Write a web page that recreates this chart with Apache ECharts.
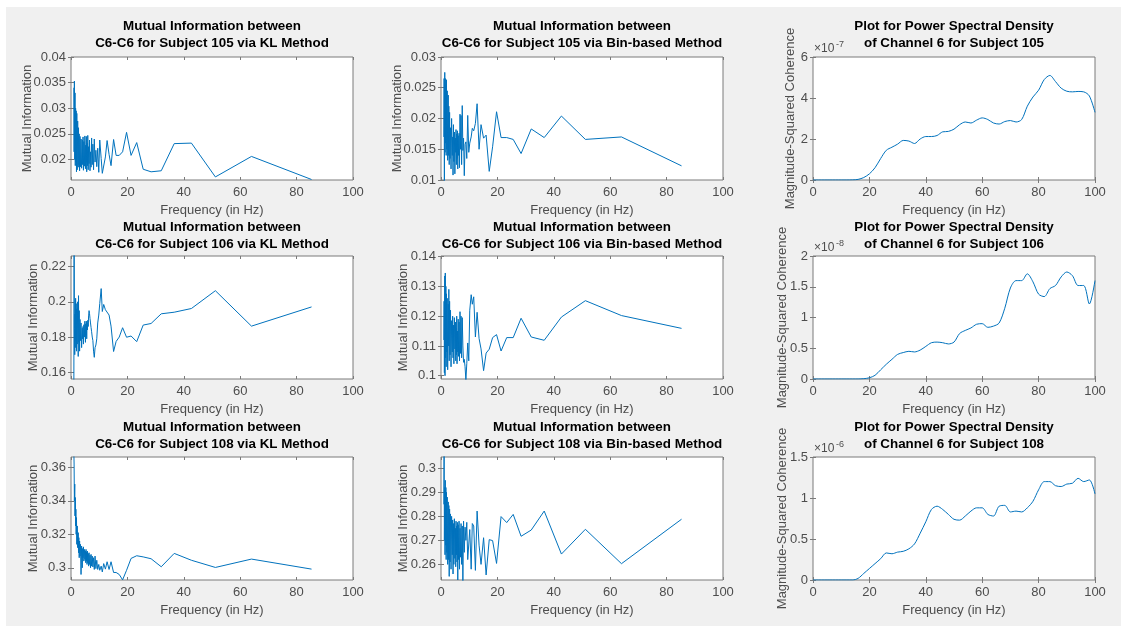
<!DOCTYPE html>
<html>
<head>
<meta charset="utf-8">
<title>Mutual Information and PSD</title>
<script src="https://cdn.jsdelivr.net/npm/echarts@6/dist/echarts.min.js"></script>
<style>
    html, body { margin: 0; padding: 0; background: #ffffff; }
    #bg { position: absolute; left: 6px; top: 7px; width: 1115px; height: 619px; background: #f0f0f0; }
    #main { position: absolute; left: 0; top: 0; width: 1121px; height: 626px; }
</style>
</head>
<body>
<div id="bg"></div>
<div id="main"></div>
<script>
// frequencies of the mutual information points (Hz)
var freqMI = [85.3, 64.0, 51.2, 42.7, 36.6, 32.0, 28.4, 25.6, 23.3, 21.3,
    19.7, 18.3, 17.1, 16.0, 15.1, 14.2, 13.5, 12.8, 12.2, 11.6,
    11.1, 10.7, 10.2, 9.85, 9.48, 9.14, 8.83, 8.53, 8.26, 8.0,
    7.76, 7.53, 7.31, 7.11, 6.92, 6.74, 6.56, 6.4, 6.24, 6.1,
    5.95, 5.82, 5.69, 5.57, 5.45, 5.33, 5.22, 5.12, 4.92, 4.74,
    4.57, 4.41, 4.27, 4.13, 4.0, 3.76, 3.56, 3.37, 3.2, 3.05,
    2.91, 2.78, 2.67, 2.56, 2.37, 2.21, 2.06, 1.94, 1.83, 1.73,
    1.64, 1.52, 1.42, 1.33, 1.2, 1.1, 1.0];

var mi105KL = [0.0161, 0.0206, 0.0166, 0.0232, 0.0231, 0.0178, 0.0176, 0.0181, 0.0233, 0.0208,
    0.0253, 0.0215, 0.0208, 0.0208, 0.0239, 0.0188, 0.0210, 0.0237, 0.0205, 0.0204,
    0.0173, 0.0202, 0.0238, 0.0175, 0.0222, 0.0186, 0.0218, 0.0195, 0.0240, 0.0180,
    0.0230, 0.0190, 0.0242, 0.0185, 0.0215, 0.0178, 0.0238, 0.0192, 0.0225, 0.0180,
    0.0247, 0.0188, 0.0232, 0.0176, 0.0245, 0.0195, 0.0228, 0.0182, 0.0246, 0.0187,
    0.0235, 0.0179, 0.0244, 0.0190, 0.0238, 0.0183, 0.0240, 0.0186, 0.0245, 0.0178,
    0.0250, 0.0190, 0.0262, 0.0185, 0.0275, 0.0180, 0.0290, 0.0176, 0.0295, 0.0195,
    0.0300, 0.0188, 0.0330, 0.0200, 0.0353, 0.0215, 0.0340];

var mi105Bin = [0.0123, 0.0170, 0.0166, 0.0204, 0.0169, 0.0183, 0.0143, 0.0166, 0.0169, 0.0169,
    0.0211, 0.0154, 0.0114, 0.0173, 0.0168, 0.0190, 0.0150, 0.0224, 0.0192, 0.0180,
    0.0184, 0.0170, 0.0160, 0.0145, 0.0205, 0.0135, 0.0162, 0.0158, 0.0107, 0.0168,
    0.0148, 0.0221, 0.0125, 0.0205, 0.0150, 0.0207, 0.0120, 0.0176, 0.0140, 0.0172,
    0.0118, 0.0180, 0.0135, 0.0175, 0.0125, 0.0182, 0.0145, 0.0168, 0.0110, 0.0178,
    0.0130, 0.0190, 0.0108, 0.0170, 0.0140, 0.0200, 0.0118, 0.0185, 0.0135, 0.0210,
    0.0125, 0.0220, 0.0140, 0.0238, 0.0132, 0.0245, 0.0150, 0.0263, 0.0140, 0.0255,
    0.0160, 0.0265, 0.0145, 0.0275, 0.0095, 0.0265, 0.0170];

var mi106KL = [0.1971, 0.1862, 0.2063, 0.1962, 0.1941, 0.1932, 0.1877, 0.1868, 0.1774, 0.1806,
    0.1799, 0.1853, 0.1800, 0.1775, 0.1718, 0.1862, 0.1925, 0.1915, 0.1955, 0.1985,
    0.1945, 0.2075, 0.1990, 0.1925, 0.1880, 0.1790, 0.1755, 0.1740, 0.1685, 0.1720,
    0.1780, 0.1800, 0.1830, 0.1855, 0.1880, 0.1905, 0.1935, 0.1950, 0.1920, 0.1860,
    0.1895, 0.1840, 0.1880, 0.1790, 0.1890, 0.1810, 0.1875, 0.1770, 0.1890, 0.1800,
    0.1870, 0.1760, 0.1860, 0.1790, 0.1850, 0.1740, 0.1880, 0.1780, 0.1900, 0.1720,
    0.1950, 0.1770, 0.2035, 0.1690, 0.2000, 0.1760, 0.1960, 0.1720, 0.1990, 0.1780,
    0.2020, 0.1740, 0.1930, 0.1700, 0.1850, 0.2400, 0.1400];

var mi106Bin = [0.1159, 0.1202, 0.1252, 0.1197, 0.1119, 0.1130, 0.1193, 0.1128, 0.1128, 0.1083,
    0.1138, 0.1128, 0.1089, 0.1076, 0.1017, 0.1090, 0.1125, 0.1213, 0.1130, 0.1265,
    0.1240, 0.1272, 0.1220, 0.1050, 0.1110, 0.1040, 0.0985, 0.1030, 0.1055, 0.1045,
    0.1100, 0.1195, 0.1060, 0.1200, 0.1075, 0.1215, 0.1050, 0.1180, 0.1065, 0.1190,
    0.1080, 0.1150, 0.1040, 0.1200, 0.1070, 0.1160, 0.1050, 0.1180, 0.1090, 0.1195,
    0.1040, 0.1170, 0.1060, 0.1200, 0.1080, 0.1185, 0.1030, 0.1220, 0.1070, 0.1250,
    0.1050, 0.1290, 0.1100, 0.1240, 0.1020, 0.1260, 0.1080, 0.1275, 0.1030, 0.1300,
    0.1060, 0.1345, 0.1000, 0.1335, 0.1010, 0.1250, 0.1120];

var mi108KL = [0.2992, 0.3052, 0.3002, 0.3045, 0.3086, 0.3006, 0.3054, 0.3065, 0.3072, 0.3056,
    0.2985, 0.2928, 0.2960, 0.2972, 0.2972, 0.3036, 0.2990, 0.3036, 0.2992, 0.3025,
    0.2975, 0.3010, 0.2985, 0.3020, 0.2990, 0.3045, 0.2995, 0.3070, 0.2990, 0.3060,
    0.3005, 0.3070, 0.3010, 0.3080, 0.3000, 0.3075, 0.3020, 0.3090, 0.3010, 0.3085,
    0.3030, 0.3100, 0.3020, 0.3095, 0.3040, 0.3110, 0.3030, 0.3100, 0.3050, 0.3110,
    0.3040, 0.3125, 0.3060, 0.3115, 0.3000, 0.3130, 0.2960, 0.3140, 0.3070, 0.3160,
    0.3060, 0.3180, 0.3090, 0.3210, 0.3120, 0.3250, 0.3140, 0.3300, 0.3200, 0.3350,
    0.3250, 0.3420, 0.3310, 0.3500, 0.3400, 0.3620, 0.3700];

var mi108Bin = [0.2788, 0.2603, 0.2746, 0.2643, 0.2822, 0.2743, 0.2717, 0.2808, 0.2774, 0.2799,
    0.2604, 0.2699, 0.2703, 0.2556, 0.2711, 0.2600, 0.2680, 0.2822, 0.2575, 0.2760,
    0.2770, 0.2580, 0.2745, 0.2750, 0.2620, 0.2775, 0.2700, 0.2755, 0.2650, 0.2780,
    0.2530, 0.2760, 0.2600, 0.2770, 0.2630, 0.2750, 0.2580, 0.2780, 0.2620, 0.2765,
    0.2535, 0.2775, 0.2610, 0.2760, 0.2640, 0.2780, 0.2590, 0.2750, 0.2625, 0.2790,
    0.2600, 0.2770, 0.2560, 0.2785, 0.2640, 0.2800, 0.2580, 0.2810, 0.2610, 0.2830,
    0.2550, 0.2845, 0.2620, 0.2860, 0.2600, 0.2880, 0.2650, 0.2900, 0.2620, 0.2920,
    0.2680, 0.2950, 0.2640, 0.2920, 0.2700, 0.3100, 0.2850];

// power spectral density, frequencies 0..100 Hz
var freqPSD = [0, 2, 4, 6, 8, 10, 12, 14, 16, 18,
    20, 22, 24, 26, 28, 30, 32, 34, 36, 38,
    40, 42, 44, 46, 48, 50, 52, 54, 56, 58,
    60, 62, 64, 66, 68, 70, 72, 74, 76, 78,
    80, 82, 84, 86, 88, 90, 92, 94, 96, 98, 100];

// in units of 1e-7
var psd105 = [0, 0, 0, 0, 0, 0, 0, 0.005, 0.03, 0.12,
    0.3, 0.6, 1.05, 1.45, 1.6, 1.75, 1.93, 1.9, 1.78, 2.0,
    2.12, 2.12, 2.17, 2.35, 2.37, 2.48, 2.7, 2.83, 2.78, 2.92,
    3.03, 2.95, 2.78, 2.73, 2.85, 2.9, 2.83, 2.95, 3.6, 4.05,
    4.38, 4.9, 5.1, 4.8, 4.48, 4.33, 4.3, 4.32, 4.3, 4.1, 3.3];

// in units of 1e-8
var psd106 = [0, 0, 0, 0, 0, 0, 0, 0, 0, 0.005,
    0.02, 0.06, 0.15, 0.24, 0.32, 0.4, 0.43, 0.45, 0.44, 0.47,
    0.53, 0.59, 0.6, 0.59, 0.57, 0.6, 0.74, 0.79, 0.83, 0.89,
    0.9, 0.84, 0.86, 0.91, 1.15, 1.48, 1.6, 1.6, 1.71, 1.58,
    1.38, 1.34, 1.47, 1.52, 1.66, 1.74, 1.68, 1.52, 1.52, 1.22, 1.6];

// in units of 1e-6
var psd108 = [0, 0, 0, 0, 0, 0, 0, 0, 0.02, 0.08,
    0.14, 0.2, 0.26, 0.33, 0.32, 0.34, 0.35, 0.38, 0.44, 0.57,
    0.71, 0.86, 0.9, 0.86, 0.8, 0.74, 0.73, 0.78, 0.84, 0.88,
    0.88, 0.8, 0.78, 0.9, 0.91, 0.83, 0.84, 0.83, 0.88, 0.96,
    1.1, 1.2, 1.2, 1.15, 1.14, 1.17, 1.18, 1.24, 1.2, 1.22, 1.05];

// tick labels
var xTicks = [0, 20, 40, 60, 80, 100];
var yTicks105KL = [0.02, 0.025, 0.03, 0.035, 0.04];
var yTicks105Bin = [0.01, 0.015, 0.02, 0.025, 0.03];
var yTicks105Psd = [0, 2, 4, 6];
var yTicks106KL = [0.16, 0.18, 0.2, 0.22];
var yTicks106Bin = [0.1, 0.11, 0.12, 0.13, 0.14];
var yTicks106Psd = [0, 0.5, 1, 1.5, 2];
var yTicks108KL = [0.3, 0.32, 0.34, 0.36];
var yTicks108Bin = [0.26, 0.27, 0.28, 0.29, 0.3];
var yTicks108Psd = [0, 0.5, 1, 1.5];

var FONT = "'Liberation Sans', Arial, Helvetica, sans-serif";
var GREY = '#4d4d4d';
var BOX = '#7a7a7a';
var BLUE = '#0072bd';

var colX = [71, 441, 813];
var rowY = [57, 256, 457];
var plotW = 282, plotH = 123;
var titleTop = [18, 219, 419];

var panels = [
    {r: 0, c: 0, title: 'Mutual Information between\nC6-C6 for Subject 105 via KL Method', xs: freqMI, ys: mi105KL, min: 0.016, max: 0.04, ticks: yTicks105KL, yName: 'Mutual Information', gap: 37},
    {r: 0, c: 1, title: 'Mutual Information between\nC6-C6 for Subject 105 via Bin-based Method', xs: freqMI, ys: mi105Bin, min: 0.01, max: 0.03, ticks: yTicks105Bin, yName: 'Mutual Information', gap: 37},
    {r: 0, c: 2, title: 'Plot for Power Spectral Density\nof Channel 6 for Subject 105', xs: freqPSD, ys: psd105, min: 0, max: 6, ticks: yTicks105Psd, yName: 'Magnitude-Squared Coherence', gap: 16, exp: '-7', smooth: true},
    {r: 1, c: 0, title: 'Mutual Information between\nC6-C6 for Subject 106 via KL Method', xs: freqMI, ys: mi106KL, min: 0.1562, max: 0.226, ticks: yTicks106KL, yName: 'Mutual Information', gap: 31},
    {r: 1, c: 1, title: 'Mutual Information between\nC6-C6 for Subject 106 via Bin-based Method', xs: freqMI, ys: mi106Bin, min: 0.0989, max: 0.1402, ticks: yTicks106Bin, yName: 'Mutual Information', gap: 31},
    {r: 1, c: 2, title: 'Plot for Power Spectral Density\nof Channel 6 for Subject 106', xs: freqPSD, ys: psd106, min: 0, max: 2, ticks: yTicks106Psd, yName: 'Magnitude-Squared Coherence', gap: 24, exp: '-8', smooth: true},
    {r: 2, c: 0, title: 'Mutual Information between\nC6-C6 for Subject 108 via KL Method', xs: freqMI, ys: mi108KL, min: 0.2927, max: 0.3662, ticks: yTicks108KL, yName: 'Mutual Information', gap: 31},
    {r: 2, c: 1, title: 'Mutual Information between\nC6-C6 for Subject 108 via Bin-based Method', xs: freqMI, ys: mi108Bin, min: 0.2535, max: 0.3047, ticks: yTicks108Bin, yName: 'Mutual Information', gap: 31},
    {r: 2, c: 2, title: 'Plot for Power Spectral Density\nof Channel 6 for Subject 108', xs: freqPSD, ys: psd108, min: 0, max: 1.5, ticks: yTicks108Psd, yName: 'Magnitude-Squared Coherence', gap: 24, exp: '-6', smooth: true}
];

var option = {
    animation: false,
    title: [],
    grid: [],
    xAxis: [],
    yAxis: [],
    series: [],
    graphic: []
};

var labelStyle = {color: GREY, fontSize: 13, fontFamily: FONT};
var tickStyle = {inside: true, length: 3, lineStyle: {color: BOX}};

panels.forEach(function (p, i) {
    var left = colX[p.c], top = rowY[p.r];
    option.grid.push({
        left: left, top: top, width: plotW, height: plotH,
        show: true, backgroundColor: '#ffffff', borderColor: BOX, borderWidth: 1
    });
    option.title.push({
        text: p.title,
        left: left + plotW / 2,
        top: titleTop[p.r],
        textAlign: 'center',
        padding: 0,
        textStyle: {fontSize: 13.4, fontWeight: 'bold', color: '#000000', fontFamily: FONT, lineHeight: 17}
    });
    // bottom + top x axes
    option.xAxis.push({
        gridIndex: i, type: 'value', min: 0, max: 100, interval: 20,
        axisLine: {show: false}, axisTick: tickStyle, splitLine: {show: false},
        axisLabel: Object.assign({margin: 6}, labelStyle),
        name: 'Frequency (in Hz)', nameLocation: 'middle', nameGap: 24,
        nameMoveOverlap: false,
        nameTextStyle: labelStyle
    });
    option.xAxis.push({
        gridIndex: i, type: 'value', position: 'top', min: 0, max: 100, interval: 20,
        axisLine: {show: false}, axisTick: tickStyle, splitLine: {show: false},
        axisLabel: {show: false}
    });
    // left + right y axes
    option.yAxis.push({
        gridIndex: i, type: 'value', min: p.min, max: p.max,
        axisLine: {show: false}, splitLine: {show: false},
        axisTick: Object.assign({customValues: p.ticks}, tickStyle),
        axisLabel: Object.assign({margin: 5, customValues: p.ticks}, labelStyle),
        name: p.yName, nameLocation: 'middle', nameGap: p.gap,
        nameMoveOverlap: false,
        nameTextStyle: labelStyle
    });
    option.yAxis.push({
        gridIndex: i, type: 'value', position: 'right', min: p.min, max: p.max,
        axisLine: {show: false}, splitLine: {show: false},
        axisTick: Object.assign({customValues: p.ticks}, tickStyle),
        axisLabel: {show: false}
    });
    option.series.push({
        type: 'line',
        xAxisIndex: 2 * i,
        yAxisIndex: 2 * i,
        data: p.xs.map(function (x, k) { return [x, p.ys[k]]; }),
        showSymbol: false,
        symbol: 'none',
        smooth: p.smooth ? 0.3 : false,
        clip: true,
        lineStyle: {width: 1, color: BLUE}
    });
    if (p.exp) {
        option.graphic.push({
            type: 'text', left: left + 1, top: top - 14,
            style: {text: '\u00d710', fontSize: 12, fill: GREY, fontFamily: FONT}
        });
        option.graphic.push({
            type: 'text', left: left + 23, top: top - 17,
            style: {text: p.exp, fontSize: 9, fill: GREY, fontFamily: FONT}
        });
    }
});

var chart = echarts.init(document.getElementById('main'));
chart.setOption(option);
</script>
</body>
</html>
